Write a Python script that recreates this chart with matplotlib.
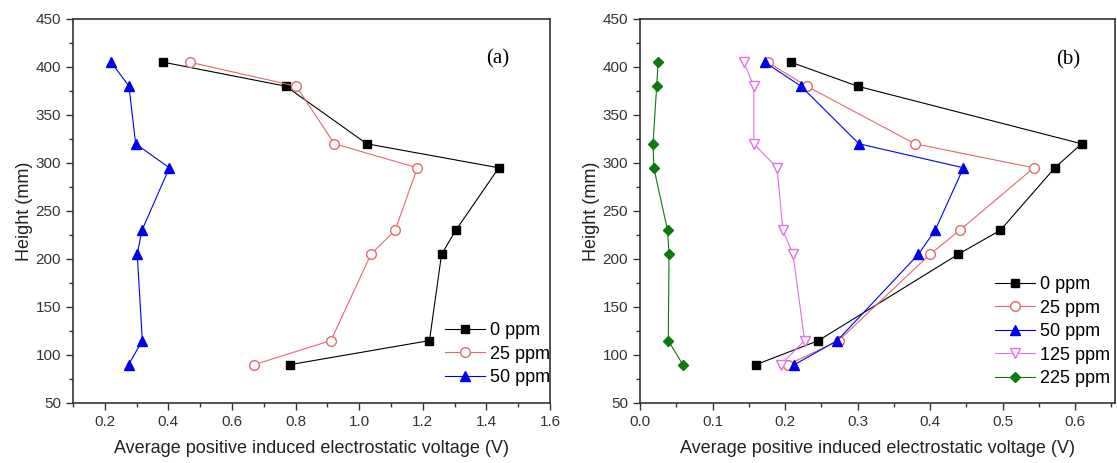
import matplotlib
matplotlib.use("Agg")
import matplotlib.pyplot as plt
from matplotlib.ticker import MultipleLocator, AutoMinorLocator

plt.rcParams['font.family'] = ['Liberation Sans', 'DejaVu Sans']

heights = [405, 380, 320, 295, 230, 205, 115, 90]

# Panel (a)
a_0ppm = [0.384, 0.769, 1.024, 1.439, 1.304, 1.259, 1.221, 0.783]
a_25ppm = [0.467, 0.802, 0.922, 1.183, 1.113, 1.037, 0.911, 0.670]
a_50ppm = [0.220, 0.276, 0.297, 0.403, 0.317, 0.302, 0.318, 0.275]

# Panel (b)
b_0ppm = [0.208, 0.300, 0.609, 0.572, 0.497, 0.439, 0.246, 0.160]
b_25ppm = [0.176, 0.230, 0.379, 0.543, 0.441, 0.400, 0.274, 0.204]
b_50ppm = [0.172, 0.222, 0.302, 0.446, 0.407, 0.384, 0.272, 0.213]
b_125ppm = [0.143, 0.157, 0.157, 0.189, 0.197, 0.211, 0.227, 0.194]
b_225ppm = [0.025, 0.023, 0.018, 0.019, 0.038, 0.040, 0.039, 0.059]

labels_a = ['0 ppm', '25 ppm', '50 ppm']
labels_b = ['0 ppm', '25 ppm', '50 ppm', '125 ppm', '225 ppm']

styles = [
    dict(color='black', marker='s', mfc='black', mec='black', ms=6),
    dict(color='#e06a6a', marker='o', mfc='white', mec='#e06a6a', ms=7),
    dict(color='#0000ee', marker='^', mfc='#0000ee', mec='#0000ee', ms=7),
    dict(color='#e070e0', marker='v', mfc='white', mec='#e070e0', ms=7),
    dict(color='#0a7a0a', marker='D', mfc='#0a7a0a', mec='#0a7a0a', ms=5.5),
]

fig = plt.figure(figsize=(11.17, 4.63), dpi=100)
W, H = 1117, 463
ax1 = fig.add_axes([73 / W, (H - 403) / H, (550 - 73) / W, (403 - 19) / H])
ax2 = fig.add_axes([640 / W, (H - 403) / H, (1115 - 640) / W, (403 - 19) / H])


def style_axes(ax, xmin, xmax, xmajor, xfmt):
    ax.set_ylim(50, 450)
    ax.set_xlim(xmin, xmax)
    ax.xaxis.set_major_locator(MultipleLocator(xmajor))
    ax.xaxis.set_minor_locator(AutoMinorLocator(2))
    ax.yaxis.set_major_locator(MultipleLocator(50))
    ax.yaxis.set_minor_locator(AutoMinorLocator(2))
    ax.tick_params(which='both', direction='out', top=False, right=False,
                   labelsize=11, colors='#333333', labelcolor='#333333')
    ax.tick_params(which='major', length=5, width=1)
    ax.tick_params(which='minor', length=3, width=1)
    ax.xaxis.set_major_formatter(plt.FuncFormatter(lambda v, p: xfmt.format(v)))
    for s in ax.spines.values():
        s.set_color('#333333')
        s.set_linewidth(1.2)
    ax.set_xlabel('Average positive induced electrostatic voltage (V)', fontsize=13,
                  color='#222222', labelpad=8)
    ax.set_ylabel('Height (mm)', fontsize=13, color='#222222', labelpad=2)


legend_kw = dict(loc='center left', frameon=False, fontsize=13, handlelength=2.2,
                 handletextpad=0.3, labelspacing=0.36, borderpad=0, borderaxespad=0)

for vals, lab, st in zip([a_0ppm, a_25ppm, a_50ppm], labels_a, styles):
    ax1.plot(vals, heights, lw=0.8, label=lab, **st)
style_axes(ax1, 0.1, 1.6, 0.2, '{:.1f}')
ax1.set_xticks([0.2, 0.4, 0.6, 0.8, 1.0, 1.2, 1.4, 1.6])
ax1.text(0.891, 0.896, '(a)', transform=ax1.transAxes, fontsize=15,
         family='Liberation Serif', ha='center', va='center')
ax1.legend(bbox_to_anchor=(0.780, 0.127), **legend_kw)

for vals, lab, st in zip([b_0ppm, b_25ppm, b_50ppm, b_125ppm, b_225ppm], labels_b, styles):
    ax2.plot(vals, heights, lw=0.8, label=lab, **st)
style_axes(ax2, 0.0, 0.655, 0.1, '{:.1f}')
ax2.text(0.901, 0.893, '(b)', transform=ax2.transAxes, fontsize=15,
         family='Liberation Serif', ha='center', va='center')
ax2.legend(bbox_to_anchor=(0.747, 0.186), **legend_kw)

fig.savefig('out.png', dpi=100)
